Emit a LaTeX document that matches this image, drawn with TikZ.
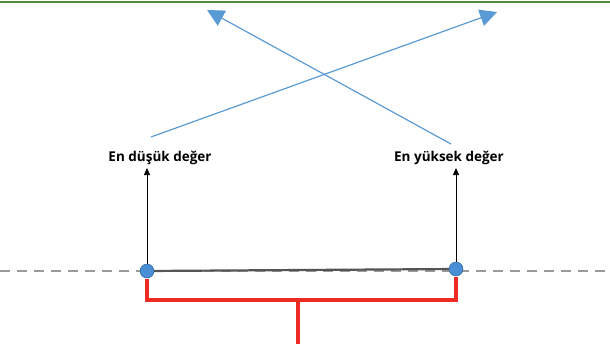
\documentclass[tikz,border=0pt]{standalone}
\usepackage{fontspec}
\setmainfont{Open Sans}
\usetikzlibrary{arrows.meta}
\definecolor{topgreen}{HTML}{4F8A3A}
\definecolor{skyblue}{HTML}{5B9BD5}
\definecolor{dotblue}{HTML}{4A8FD6}
\definecolor{bracketred}{HTML}{EE2C24}
\definecolor{dashgray}{HTML}{9A9A9A}
\definecolor{axisgray}{HTML}{555555}
\tikzset{
  limitlabel/.style={font=\bfseries\fontsize{13.5}{15}\selectfont, inner sep=0pt},
  crossarrow/.style={draw=skyblue, line width=1.2pt, -{Triangle[length=17pt,width=17pt]}},
  uparrow/.style={draw=black, line width=0.7pt, -{Triangle[length=7pt,width=6pt]}},
  endpoint/.style={circle, fill=dotblue, draw=dotblue!70!black, line width=0.5pt, minimum size=14pt, inner sep=0pt},
  bracket/.style={draw=bracketred, line width=3.5pt, line join=miter}
}
\begin{document}
\begin{tikzpicture}[x=1pt, y=-1pt]
  \useasboundingbox (0,0) rectangle (610,349);
  % top rule
  \fill[topgreen] (0,0.5) rectangle (610,2.8);
  % dashed baseline
  \coordinate (dl) at (0,271);
  \coordinate (dr) at (610,271);
  \draw[dashgray, line width=2.5pt, dash pattern=on 10pt off 7pt] (dl) -- (dr);
  % endpoints of the range
  \coordinate (pl) at (147,271);
  \coordinate (pr) at (456,269);
  \draw[axisgray, line width=2.2pt] (pl) -- (pr);
  % labels
  \node[limitlabel] (low) at (160,158) {En düşük değer};
  \node[limitlabel] (high) at (449,158) {En yüksek değer};
  % vertical arrows to labels
  \draw[uparrow] (pl) -- (147,168);
  \draw[uparrow] (pr) -- (456,168);
  % crossing arrows
  \coordinate (c1s) at (151,137);
  \coordinate (c1e) at (497,12);
  \coordinate (c2s) at (451,144);
  \coordinate (c2e) at (207,10);
  \draw[crossarrow] (c1s) -- (c1e);
  \draw[crossarrow] (c2s) -- (c2e);
  % bracket below the range
  \coordinate (stem) at (298,344);
  \draw[bracket] (147,279) -- (147,300) -- (456,300) -- (456,277);
  \draw[bracket] (298,300) -- (stem);
  \node[endpoint] (nl) at (pl) {};
  \node[endpoint] (nr) at (pr) {};
\end{tikzpicture}
\end{document}
